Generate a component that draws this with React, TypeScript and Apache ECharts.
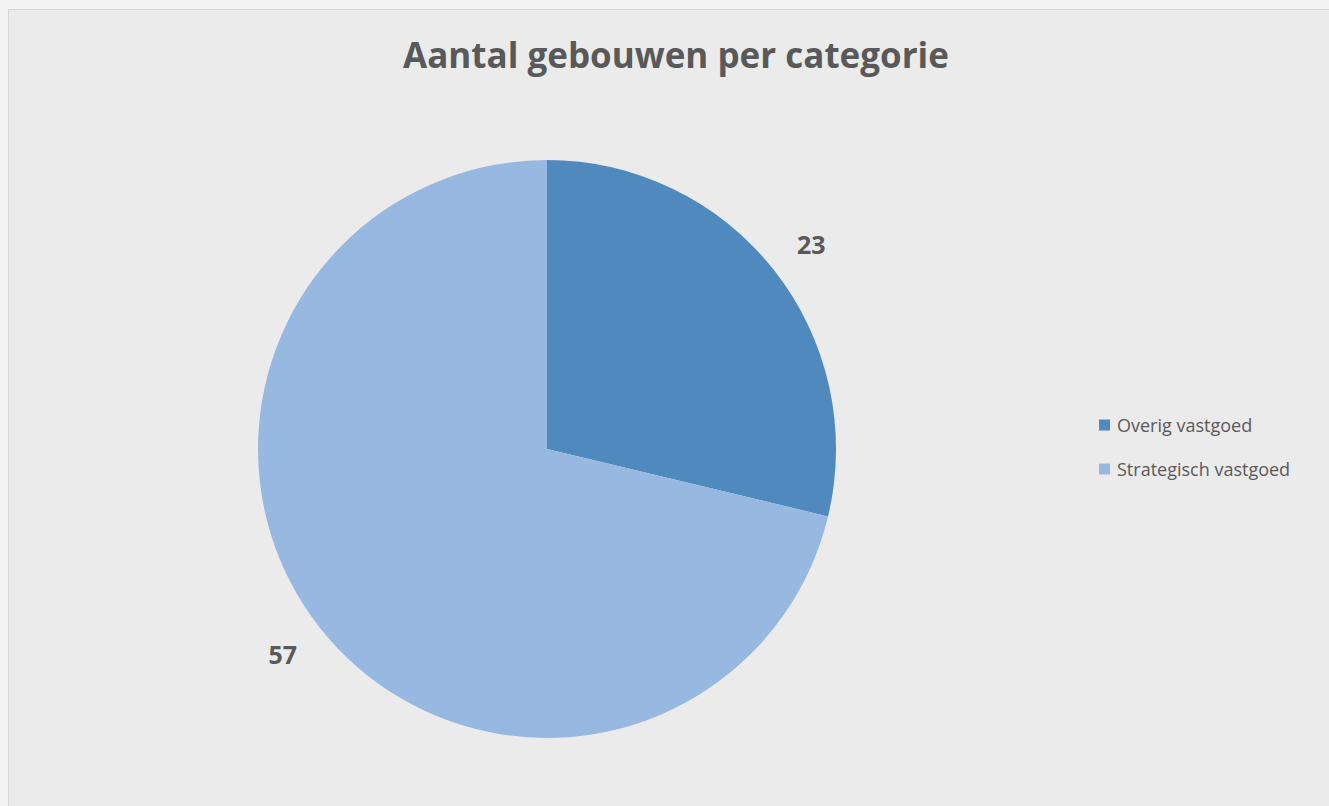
import React, { useEffect, useRef } from "react";
import * as echarts from "echarts";

const titleText = "Aantal gebouwen per categorie";
const categories = ["Overig vastgoed", "Strategisch vastgoed"];
const values = [23, 57];
const colors = ["#4f89bd", "#97b8e0"];

export default function App() {
  const ref = useRef<HTMLDivElement>(null);
  useEffect(() => {
    if (!ref.current) return;
    const chart = echarts.init(ref.current, undefined, { renderer: "svg" });
    chart.setOption({
      animation: false,
      backgroundColor: "#ebebeb",
      title: {
        text: titleText,
        left: 662,
        textAlign: "center",
        top: 22,
        textStyle: {
          fontFamily: "Open Sans",
          fontWeight: "bold",
          fontSize: 35,
          color: "#595959",
        },
      },
      legend: {
        orient: "vertical",
        left: 1085,
        top: 401,
        itemWidth: 11,
        itemHeight: 11,
        itemGap: 26,
        icon: "rect",
        data: categories,
        textStyle: {
          fontFamily: "Open Sans",
          fontSize: 18,
          color: "#595959",
          padding: [0, 0, 0, 2],
        },
      },
      series: [
        {
          type: "pie",
          center: [538, 439],
          radius: 289,
          startAngle: 90,
          clockwise: true,
          avoidLabelOverlap: false,
          data: categories.map((c, i) => ({
            name: c,
            value: values[i],
            itemStyle: { color: colors[i] },
          })),
          label: {
            show: true,
            position: "outside",
            formatter: "{c}",
            fontFamily: "Open Sans",
            fontWeight: "bold",
            fontSize: 25,
            color: "#595959",
            distanceToLabelLine: -10,
          },
          labelLine: { show: false, length: 42, length2: 0 },
          emphasis: { disabled: true },
        },
      ],
    });
    return () => chart.dispose();
  }, []);
  return (
    <div
      style={{
        position: "fixed",
        left: 0,
        top: 0,
        width: 1329,
        height: 806,
        background: "#f4f4f4",
        overflow: "hidden",
      }}
    >
      <div
        style={{
          position: "absolute",
          left: 8,
          top: 9,
          width: 1340,
          height: 810,
          border: "1px solid #d6d6d6",
        }}
      >
        <div ref={ref} style={{ width: 1340, height: 810 }} />
      </div>
    </div>
  );
}
